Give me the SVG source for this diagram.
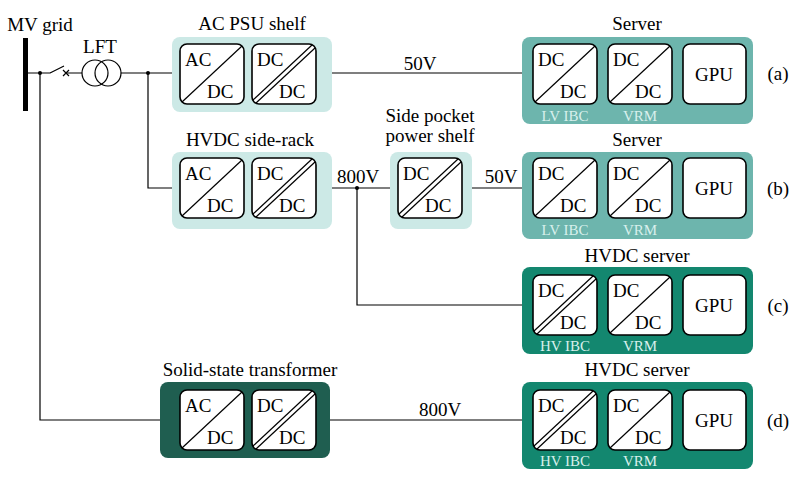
<svg xmlns="http://www.w3.org/2000/svg" width="800" height="482" viewBox="0 0 800 482" font-family="'Liberation Serif','DejaVu Serif',serif">
<style>
text{font-family:'Liberation Serif','DejaVu Serif',serif;font-size:19px;fill:#000}
.t{text-anchor:middle}
.s{font-size:15px;fill:#d8f0ec;text-anchor:middle}
.b{fill:#fff;stroke:#000;stroke-width:1.6}
.w{fill:none;stroke:#000;stroke-width:1.2}
.d{stroke:#000;stroke-width:1.2}
</style>
<defs>
<g id="c1"><rect class="b" x="0" y="0" width="64" height="60" rx="7"/><line class="d" x1="2" y1="58" x2="62" y2="2"/></g>
<g id="c2"><rect class="b" x="0" y="0" width="64" height="60" rx="7"/><line class="d" x1="1" y1="56" x2="60" y2="1"/><line class="d" x1="4" y1="59" x2="63" y2="4"/></g>
</defs>
<g id="connectors">
<rect x="23" y="38" width="5" height="73" fill="#000"/>
<path class="w" d="M28 73H50M50 73L64 66M66 73H82M121 73H180M245 73H252M318 73H533"/>
<path class="w" d="M63 70L69 76M69 70L63 76"/>
<circle class="w" cx="95" cy="73" r="13"/><circle class="w" cx="108" cy="73" r="13"/>
<path class="w" d="M40 73V420H180M148 73V188H180M245 188H252M318 188H398M463 188H533M357 188V305H533M245 420H252M318 420H533"/>
<circle cx="40" cy="73" r="2" fill="#000"/><circle cx="148" cy="73" r="2" fill="#000"/><circle cx="357" cy="188" r="2" fill="#000"/>
<path class="w" d="M597 73H608M672 73H683M597 188H608M672 188H683M597 305H608M672 305H683M597 420H608M672 420H683"/>
</g>
<g id="labels">
<text x="40" y="31" class="t">MV grid</text>
<text x="100" y="53" class="t">LFT</text>
<text x="358" y="183" class="t">800V</text>
<text x="501" y="183" class="t">50V</text>
<text x="420" y="70" class="t">50V</text>
<text x="440" y="416" class="t">800V</text>
<text x="778" y="80" class="t">(a)</text>
<text x="778" y="195" class="t">(b)</text>
<text x="778" y="312" class="t">(c)</text>
<text x="778" y="427" class="t">(d)</text>
</g>
<g id="ac-psu">
<rect x="172" y="37" width="160" height="75" rx="8" fill="#cce9e6"/>
<text x="252" y="30" class="t">AC PSU shelf</text>
<use href="#c1" x="180" y="44"/><use href="#c2" x="252" y="44"/>
<text x="185" y="66">AC</text><text x="207" y="98">DC</text><text x="257" y="66">DC</text><text x="279" y="98">DC</text>
</g>
<g id="server-a">
<rect x="522" y="37" width="231" height="87" rx="8" fill="#6db5ad"/>
<text x="637" y="30" class="t">Server</text>
<use href="#c1" x="533" y="44"/><use href="#c1" x="608" y="44"/><rect class="b" x="683" y="44" width="63" height="60" rx="7"/>
<text x="538" y="66">DC</text><text x="560" y="98">DC</text><text x="613" y="66">DC</text><text x="635" y="98">DC</text><text x="714" y="81" class="t">GPU</text>
<text x="565" y="121" class="s">LV IBC</text><text x="640" y="121" class="s">VRM</text>
</g>
<g id="hvdc-side-rack">
<rect x="172" y="152" width="160" height="77" rx="8" fill="#cce9e6"/>
<text x="250" y="146" class="t">HVDC side-rack</text>
<use href="#c1" x="180" y="158"/><use href="#c2" x="252" y="158"/>
<text x="185" y="180">AC</text><text x="207" y="212">DC</text><text x="257" y="180">DC</text><text x="279" y="212">DC</text>
</g>
<g id="side-pocket">
<rect x="390" y="152" width="82" height="77" rx="8" fill="#cce9e6"/>
<text x="430" y="122" class="t">Side pocket</text><text x="430" y="142" class="t">power shelf</text>
<use href="#c2" x="398" y="158"/>
<text x="403" y="180">DC</text><text x="425" y="212">DC</text>
</g>
<g id="server-b">
<rect x="522" y="152" width="231" height="87" rx="8" fill="#6db5ad"/>
<text x="637" y="146" class="t">Server</text>
<use href="#c1" x="533" y="158"/><use href="#c1" x="608" y="158"/><rect class="b" x="683" y="158" width="63" height="60" rx="7"/>
<text x="538" y="180">DC</text><text x="560" y="212">DC</text><text x="613" y="180">DC</text><text x="635" y="212">DC</text><text x="714" y="195" class="t">GPU</text>
<text x="565" y="235" class="s">LV IBC</text><text x="640" y="235" class="s">VRM</text>
</g>
<g id="server-c">
<rect x="522" y="267" width="231" height="87" rx="8" fill="#13876f"/>
<text x="637" y="262" class="t">HVDC server</text>
<use href="#c2" x="533" y="275"/><use href="#c1" x="608" y="275"/><rect class="b" x="683" y="275" width="63" height="60" rx="7"/>
<text x="538" y="297">DC</text><text x="560" y="329">DC</text><text x="613" y="297">DC</text><text x="635" y="329">DC</text><text x="714" y="312" class="t">GPU</text>
<text x="565" y="351" class="s">HV IBC</text><text x="640" y="351" class="s">VRM</text>
</g>
<g id="sst">
<rect x="160" y="382" width="170" height="76" rx="8" fill="#1f5e50"/>
<text x="250" y="376" class="t">Solid-state transformer</text>
<use href="#c1" x="180" y="390"/><use href="#c2" x="252" y="390"/>
<text x="185" y="412">AC</text><text x="207" y="444">DC</text><text x="257" y="412">DC</text><text x="279" y="444">DC</text>
</g>
<g id="server-d">
<rect x="522" y="382" width="231" height="87" rx="8" fill="#13876f"/>
<text x="637" y="376" class="t">HVDC server</text>
<use href="#c2" x="533" y="390"/><use href="#c1" x="608" y="390"/><rect class="b" x="683" y="390" width="63" height="60" rx="7"/>
<text x="538" y="412">DC</text><text x="560" y="444">DC</text><text x="613" y="412">DC</text><text x="635" y="444">DC</text><text x="714" y="427" class="t">GPU</text>
<text x="565" y="466" class="s">HV IBC</text><text x="640" y="466" class="s">VRM</text>
</g>
</svg>
